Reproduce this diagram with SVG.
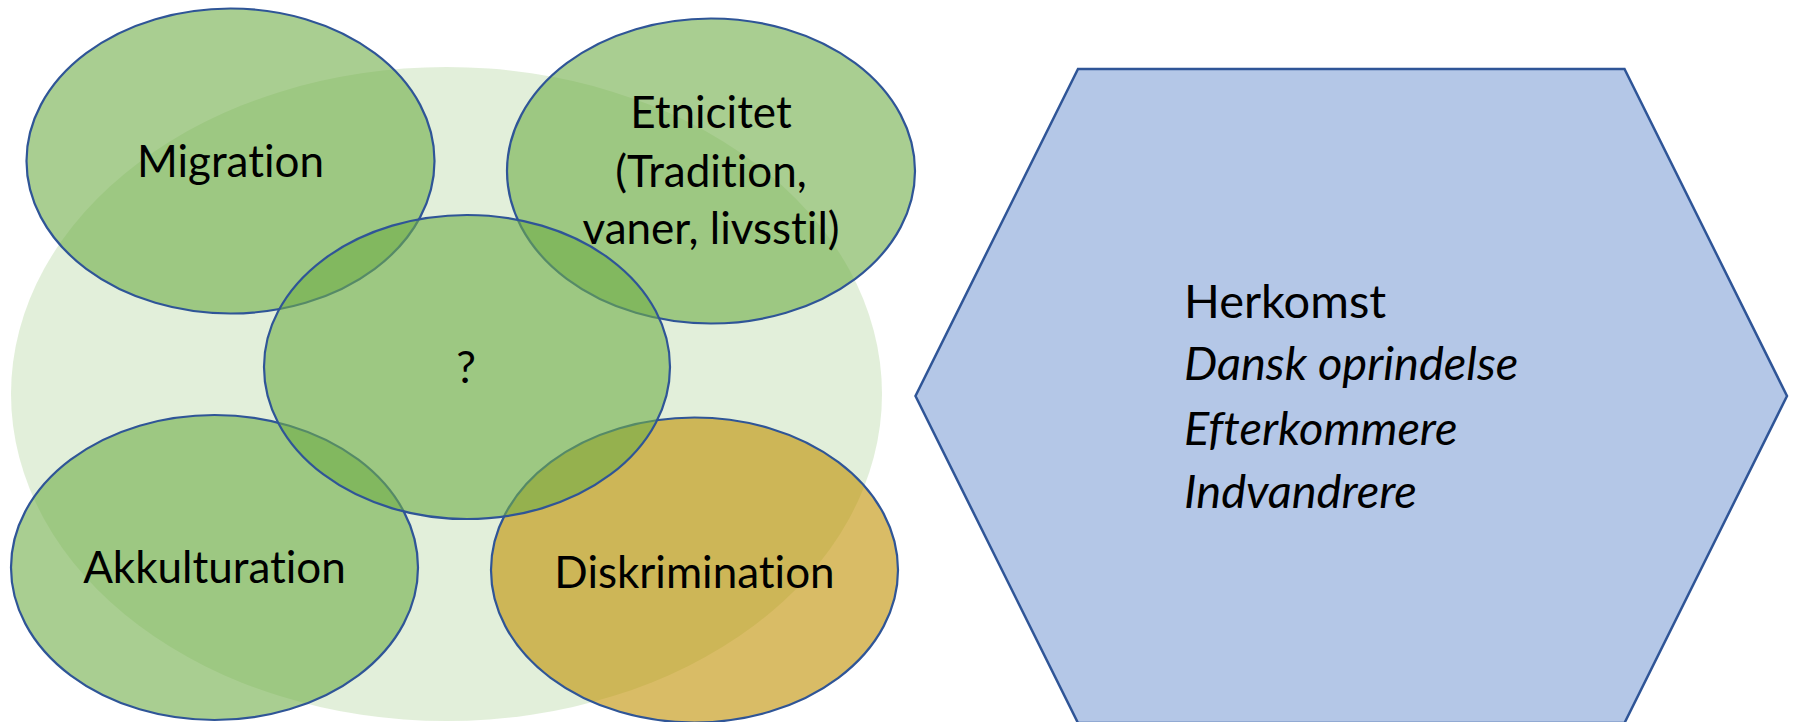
<svg xmlns="http://www.w3.org/2000/svg" width="1794" height="722" viewBox="0 0 1794 722">
<style>
  .bg { fill: #70AD47; fill-opacity: 0.2; }
  .g { fill: #70AD47; fill-opacity: 0.6; stroke: #2F5597; stroke-width: 2.2; }
  .y { fill: #BF9000; fill-opacity: 0.6; stroke: #2F5597; stroke-width: 2.2; }
  .hex { fill: #B4C7E7; stroke: #2F5597; stroke-width: 2.5; stroke-linejoin: miter; }
  text { font-family: Lato, "Liberation Sans", sans-serif; font-size: 44px; fill: #000; font-variant-ligatures: none; font-feature-settings: "liga" 0, "clig" 0; }
  .c { text-anchor: middle; }
  .h { font-size: 47px; }
  .i { font-style: italic; }
</style>
<rect width="1794" height="722" fill="#FFFFFF"/>
<g id="background">
  <ellipse class="bg" cx="446.5" cy="394" rx="435.5" ry="327"/>
</g>
<g id="migration">
  <ellipse class="g" cx="230.5" cy="161" rx="204" ry="152.5"/>
  <text class="c" x="230.5" y="177">Migration</text>
</g>
<g id="etnicitet">
  <ellipse class="g" cx="711" cy="171" rx="204" ry="152.5"/>
  <text class="c" x="711" y="128">Etnicitet</text>
  <text class="c" x="711" y="187">(Tradition,</text>
  <text class="c" x="711" y="244">vaner, livsstil)</text>
</g>
<g id="akkulturation">
  <ellipse class="g" cx="214.5" cy="567.5" rx="203.5" ry="152.5"/>
  <text class="c" x="214.5" y="583">Akkulturation</text>
</g>
<g id="diskrimination">
  <ellipse class="y" cx="694.5" cy="570" rx="203.5" ry="152.5"/>
  <text class="c" x="694.5" y="588">Diskrimination</text>
</g>
<g id="center">
  <ellipse class="g" cx="467" cy="367" rx="203" ry="152"/>
  <text class="c" x="466" y="383">?</text>
</g>
<g id="herkomst">
  <polygon class="hex" points="1078,69 1624.5,69 1787,396 1624.5,723 1078,723 915.5,396"/>
  <text class="h" x="1184" y="318">Herkomst</text>
  <text class="h i" x="1184" y="380">Dansk oprindelse</text>
  <text class="h i" x="1184" y="445">Efterkommere</text>
  <text class="h i" x="1184" y="508">Indvandrere</text>
</g>
<g id="connectors"/>
</svg>
